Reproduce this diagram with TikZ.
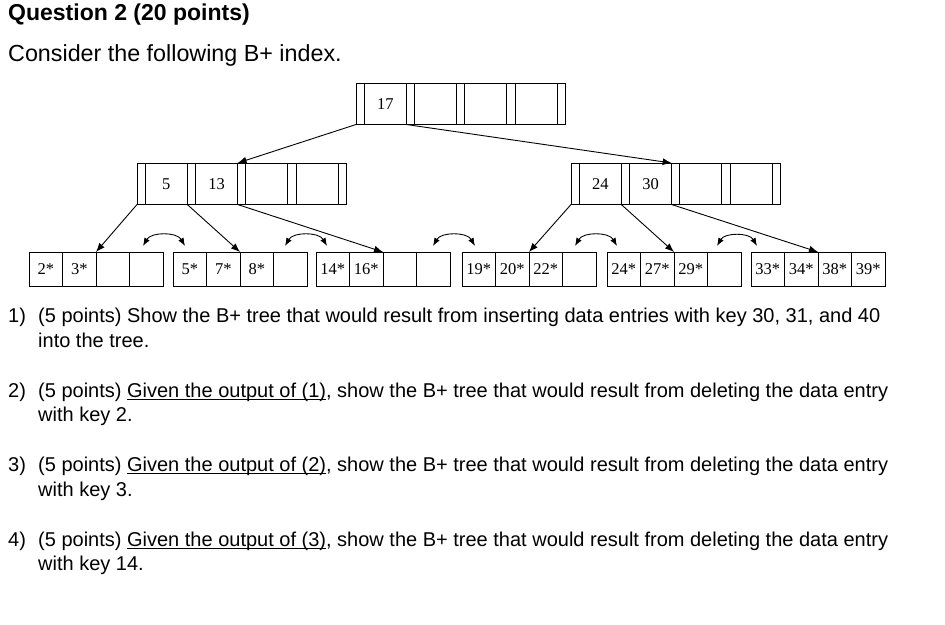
\documentclass[tikz,border=0pt]{standalone}
\usepackage{fontspec}
\setmainfont{Liberation Sans}
\newfontfamily\treefont{Liberation Serif}
\usetikzlibrary{arrows.meta}
\newcommand{\myul}[1]{\setbox0\hbox{#1}\rlap{\rule[-2.8pt]{\wd0}{1.1pt}}\box0}
\begin{document}
\begin{tikzpicture}[x=1pt,y=-1pt,
  cell/.style={draw, line width=0.9pt, inner sep=0pt, outer sep=0pt, anchor=north west, font=\treefont\fontsize{16.5}{17}\selectfont},
  ptrc/.style={cell, minimum width=8.3pt, minimum height=41.5pt},
  keyc/.style={cell, minimum width=42pt, minimum height=41.5pt},
  leafc/.style={cell, minimum width=33.5pt, minimum height=34pt},
  ptrarrow/.style={-{Latex[length=9pt,width=7pt]}, line width=0.9pt},
  sibarrow/.style={{Latex[length=8pt,width=6pt]}-{Latex[length=8pt,width=6pt]}, line width=0.9pt},
  body/.style={anchor=base west, inner sep=0pt, font=\fontsize{20}{24}\selectfont},
  head/.style={anchor=base west, inner sep=0pt, font=\fontsize{23.3}{27}\selectfont},
  titlestyle/.style={anchor=base west, inner sep=0pt, font=\bfseries\fontsize{23}{27}\selectfont}
]
\useasboundingbox (0,0) rectangle (945,624);

% internal nodes
\foreach \n/\x/\y/\ka/\kb in {R/356/83/17/{}, A/137/163/5/13, B/571/163/24/30} {
  \node[ptrc] (\n-p0) at (\x,\y) {};
  \node[keyc] (\n-k1) at (\n-p0.north east) {\ka};
  \node[ptrc] (\n-p1) at (\n-k1.north east) {};
  \node[keyc] (\n-k2) at (\n-p1.north east) {\kb};
  \node[ptrc] (\n-p2) at (\n-k2.north east) {};
  \node[keyc] (\n-k3) at (\n-p2.north east) {};
  \node[ptrc] (\n-p3) at (\n-k3.north east) {};
  \node[keyc] (\n-k4) at (\n-p3.north east) {};
  \node[ptrc] (\n-p4) at (\n-k4.north east) {};
}

% leaves
\foreach \i/\x/\a/\b/\c/\d in {1/29/2*/3*/{}/{}, 2/173/5*/7*/8*/{}, 3/316/14*/16*/{}/{}, 4/462/19*/20*/22*/{}, 5/607/24*/27*/29*/{}, 6/751/33*/34*/38*/39*} {
  \node[leafc] (L\i-1) at (\x,252) {\a};
  \node[leafc] (L\i-2) at (L\i-1.north east) {\b};
  \node[leafc] (L\i-3) at (L\i-2.north east) {\c};
  \node[leafc] (L\i-4) at (L\i-3.north east) {\d};
}

% pointers
\draw[ptrarrow] (R-p0.south west) -- (A-p2.north west);
\draw[ptrarrow] (R-p1.south west) -- (B-p2.north west);
\draw[ptrarrow] (A-p0.south west) -- (L1-2.north east);
\draw[ptrarrow] (A-p1.south west) -- (L2-2.north east);
\draw[ptrarrow] (A-p2.south west) -- (L3-2.north east);
\draw[ptrarrow] (B-p0.south west) -- (L4-2.north east);
\draw[ptrarrow] (B-p1.south west) -- (L5-2.north east);
\draw[ptrarrow] (B-p2.south west) -- (L6-2.north east);

% sibling links
\coordinate (s1a) at (143,246); \coordinate (s1b) at (185,246);
\coordinate (s2a) at (285,246); \coordinate (s2b) at (327,246);
\coordinate (s3a) at (433,246); \coordinate (s3b) at (475,246);
\coordinate (s4a) at (575,246); \coordinate (s4b) at (617,246);
\coordinate (s5a) at (717,246); \coordinate (s5b) at (757,246);
\foreach \k in {1,...,5} {
  \draw[sibarrow] (s\k a) to[out=60,in=120] (s\k b);
}

% texts
\node[titlestyle] (title) at (8,20.5) {Question 2 (20 points)};
\node[head] (intro) at (8,61) {Consider the following B+ index.};

\node[body] (n1) at (8,322) {1)};
\node[body] (q1a) at (38,322) {(5 points) Show the B+ tree that would result from inserting data entries with key 30, 31, and 40};
\node[body] (q1b) at (38,347) {into the tree.};

\node[body] (n2) at (8,397) {2)};
\node[body] (q2a) at (38,397) {(5 points) \myul{Given the output of (1)}, show the B+ tree that would result from deleting the data entry};
\node[body] (q2b) at (38,421) {with key 2.};

\node[body] (n3) at (8,471) {3)};
\node[body] (q3a) at (38,471) {(5 points) \myul{Given the output of (2)}, show the B+ tree that would result from deleting the data entry};
\node[body] (q3b) at (38,496) {with key 3.};

\node[body] (n4) at (8,546) {4)};
\node[body] (q4a) at (38,546) {(5 points) \myul{Given the output of (3)}, show the B+ tree that would result from deleting the data entry};
\node[body] (q4b) at (38,570) {with key 14.};
\end{tikzpicture}
\end{document}
